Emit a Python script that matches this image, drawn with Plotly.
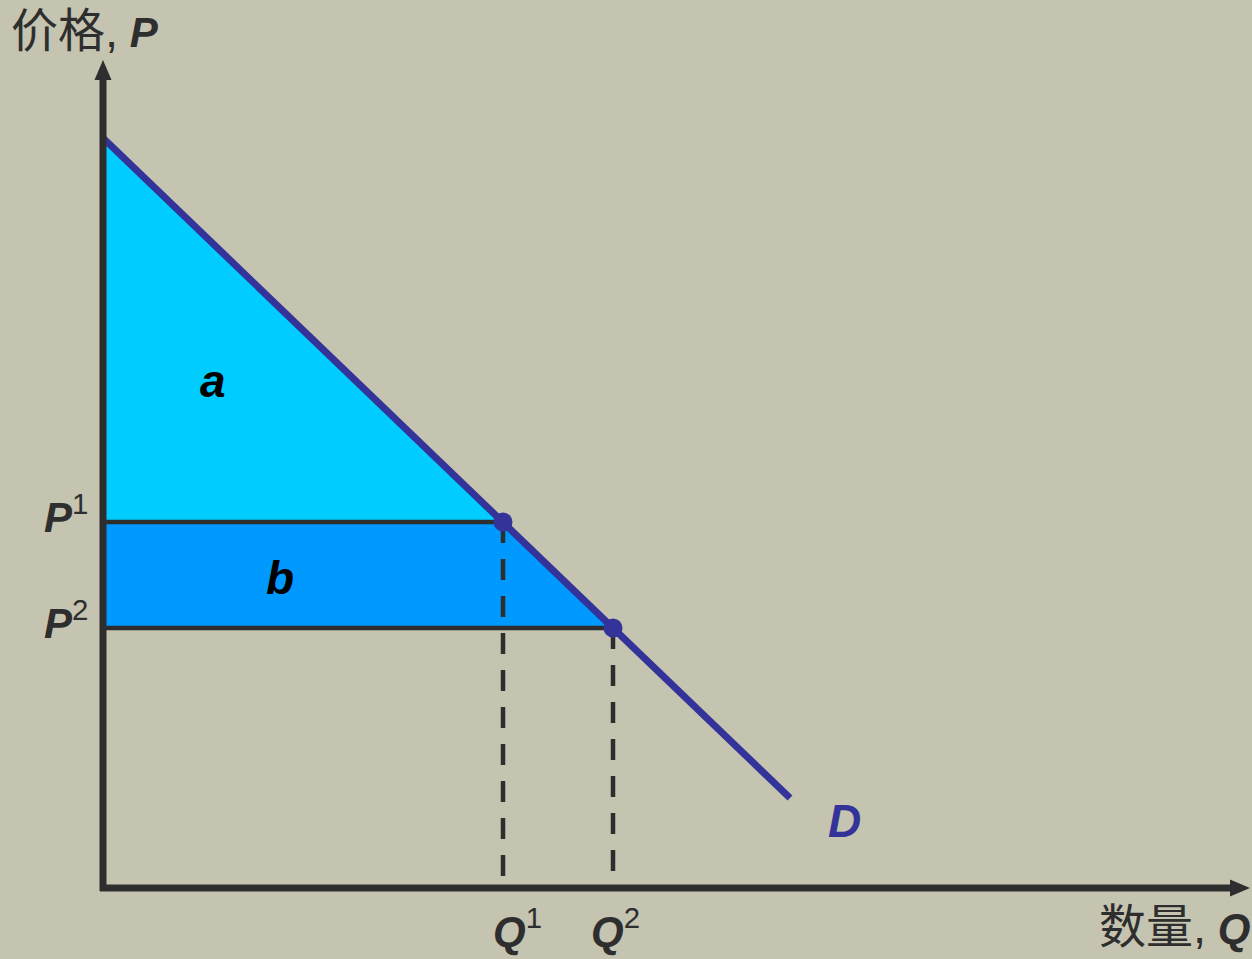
import plotly.graph_objects as go

# ---- data (economic units) ----
P_MAX = 7.5          # demand intercept on price axis
Q_END = 6.87         # end of drawn demand curve
P_END = 0.90
Q_POINTS = [4.0, 5.1]       # Q1, Q2
P_POINTS = [3.66, 2.60]     # P1, P2
Q_NAMES = ["1", "2"]
P_NAMES = ["1", "2"]
AREA_LABELS = ["a", "b"]
AXIS_Q_MAX = 11.47
AXIS_P_MAX = 8.28

Q1, Q2 = Q_POINTS
P1, P2 = P_POINTS

BG = "#C5C4B0"
DARK = "#2E2E2E"
NAVY = "#333399"
FONT = "Liberation Sans, Arial, Noto Sans CJK SC, sans-serif"

fig = go.Figure()

# area a
fig.add_trace(go.Scatter(x=[0, 0, Q1, 0], y=[P_MAX, P1, P1, P_MAX], mode="lines",
                         fill="toself", fillcolor="#00CCFF", line=dict(width=0),
                         hoverinfo="skip", showlegend=False))
# area b
fig.add_trace(go.Scatter(x=[0, 0, Q2, Q1, 0], y=[P1, P2, P2, P1, P1], mode="lines",
                         fill="toself", fillcolor="#0099FF", line=dict(width=0),
                         hoverinfo="skip", showlegend=False))
# price lines
for q, p in zip(Q_POINTS, P_POINTS):
    fig.add_trace(go.Scatter(x=[0, q], y=[p, p], mode="lines",
                             line=dict(color=DARK, width=4.5), hoverinfo="skip", showlegend=False))
    fig.add_trace(go.Scatter(x=[q, q], y=[p, 0], mode="lines",
                             line=dict(color=DARK, width=4.5, dash="21px,16px"),
                             hoverinfo="skip", showlegend=False))

# demand curve
fig.add_trace(go.Scatter(x=[0, Q_END], y=[P_MAX, P_END], mode="lines",
                         line=dict(color=NAVY, width=7), hoverinfo="skip", showlegend=False))
# points
fig.add_trace(go.Scatter(x=Q_POINTS, y=P_POINTS, mode="markers",
                         marker=dict(color=NAVY, size=19), hoverinfo="skip", showlegend=False))

# axes with arrows
fig.add_shape(type="line", x0=0, y0=-0.03, x1=0, y1=AXIS_P_MAX - 0.15,
              line=dict(color=DARK, width=7), layer="above")
fig.add_shape(type="line", x0=-0.03, y0=0, x1=AXIS_Q_MAX - 0.15, y1=0,
              line=dict(color=DARK, width=7), layer="above")
fig.add_shape(type="path",
              path=f"M -0.085,{AXIS_P_MAX-0.2} L 0.085,{AXIS_P_MAX-0.2} L 0,{AXIS_P_MAX} Z",
              fillcolor=DARK, line=dict(width=0), layer="above")
fig.add_shape(type="path",
              path=f"M {AXIS_Q_MAX-0.2},-0.085 L {AXIS_Q_MAX-0.2},0.085 L {AXIS_Q_MAX},0 Z",
              fillcolor=DARK, line=dict(width=0), layer="above")

# labels
for p, n in zip(P_POINTS, P_NAMES):
    fig.add_annotation(x=-0.13, y=p + 0.08, text=f"<b><i>P</i></b><sup>{n}</sup>",
                       showarrow=False, xanchor="right", yanchor="middle",
                       font=dict(family=FONT, size=42, color=DARK))
for q, n, dx in zip(Q_POINTS, Q_NAMES, [0.14, 0.02]):
    fig.add_annotation(x=q + dx, y=-0.40, text=f"<b><i>Q</i></b><sup>{n}</sup>",
                       showarrow=False, xanchor="center", yanchor="middle",
                       font=dict(family=FONT, size=42, color=DARK))

fig.add_annotation(x=1.1, y=5.07, text=f"<b><i>{AREA_LABELS[0]}</i></b>", showarrow=False,
                   font=dict(family=FONT, size=46, color="#000000"))
fig.add_annotation(x=1.77, y=3.1, text=f"<b><i>{AREA_LABELS[1]}</i></b>", showarrow=False,
                   font=dict(family=FONT, size=46, color="#000000"))
fig.add_annotation(x=7.41, y=0.67, text="<b><i>D</i></b>", showarrow=False,
                   font=dict(family=FONT, size=46, color=NAVY))

CJK = '<span style="font-size:47px">'
fig.add_annotation(x=0.007, y=0.998, xref="paper", yref="paper", xanchor="left", yanchor="top",
                   text=f"{CJK}价格,</span> <b><i>P</i></b>", showarrow=False,
                   font=dict(family=FONT, size=42, color=DARK))
fig.add_annotation(x=1.0, y=0.004, xref="paper", yref="paper", xanchor="right", yanchor="bottom",
                   text=f"{CJK}数量,</span> <b><i>Q</i></b>", showarrow=False,
                   font=dict(family=FONT, size=42, color=DARK))

fig.update_layout(
    width=1252, height=959,
    margin=dict(l=0, r=0, t=0, b=0),
    paper_bgcolor=BG, plot_bgcolor=BG,
    xaxis=dict(range=[-1.03, 11.49], visible=False, fixedrange=True),
    yaxis=dict(range=[-0.71, 8.88], visible=False, fixedrange=True),
    showlegend=False,
)

fig.write_html("out.html", config={"displayModeBar": False},
               post_script="document.body.style.margin='0px';")
